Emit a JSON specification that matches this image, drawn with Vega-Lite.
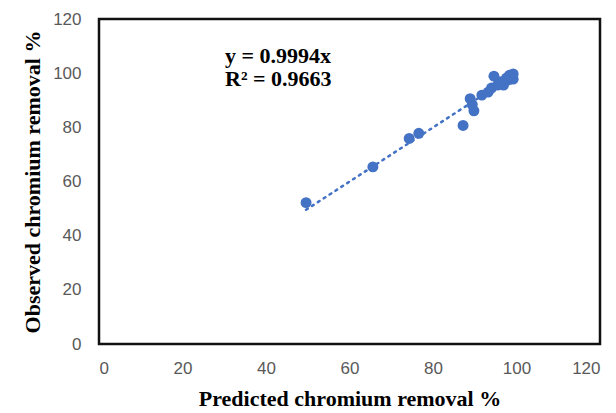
{
  "$schema": "https://vega.github.io/schema/vega-lite/v6.json",
  "autosize": {"type": "none"},
  "width": 501,
  "height": 325,
  "padding": {"left": 99, "top": 19, "right": 16, "bottom": 69},
  "background": "white",
  "config": {
    "view": {"stroke": null},
    "axis": {
      "grid": false,
      "domain": false,
      "ticks": false,
      "labelFont": "Liberation Sans",
      "labelFontSize": 17,
      "labelColor": "#595959",
      "titleFont": "Liberation Serif",
      "titleFontSize": 22,
      "titleFontWeight": "bold",
      "titleColor": "#000000"
    }
  },
  "datasets": {
    "frame": [{"x0": 0, "x1": 120, "y0": 0, "y1": 120}],
    "points": [
      {"pred": 49.6, "obs": 52.2},
      {"pred": 65.6, "obs": 65.4},
      {"pred": 74.3, "obs": 75.9},
      {"pred": 76.6, "obs": 77.8},
      {"pred": 87.2, "obs": 80.7},
      {"pred": 88.9, "obs": 90.6},
      {"pred": 89.4, "obs": 88.4},
      {"pred": 89.8, "obs": 86.1},
      {"pred": 91.7, "obs": 91.9},
      {"pred": 93.2, "obs": 93.0},
      {"pred": 94.0, "obs": 94.5},
      {"pred": 94.6, "obs": 98.9},
      {"pred": 95.5, "obs": 95.6},
      {"pred": 96.3, "obs": 96.8},
      {"pred": 96.9, "obs": 95.6},
      {"pred": 97.6, "obs": 98.2},
      {"pred": 98.2, "obs": 97.6},
      {"pred": 98.3, "obs": 99.2},
      {"pred": 99.2, "obs": 99.7},
      {"pred": 99.2, "obs": 97.8}
    ],
    "trend": [
      {"pred": 49.6, "obs": 49.57},
      {"pred": 99.3, "obs": 99.24}
    ],
    "labels": [
      {"pred": 30.2, "obs": 106.3, "text": "y = 0.9994x"},
      {"pred": 30.2, "obs": 97.8, "text": "R² = 0.9663"}
    ]
  },
  "encoding": {
    "x": {
      "field": "pred",
      "type": "quantitative",
      "scale": {"domain": [0, 120], "nice": false},
      "axis": {"values": [0, 20, 40, 60, 80, 100, 120], "title": "Predicted chromium removal %", "labelPadding": 16, "titlePadding": 12}
    },
    "y": {
      "field": "obs",
      "type": "quantitative",
      "scale": {"domain": [0, 120], "nice": false},
      "axis": {"values": [0, 20, 40, 60, 80, 100, 120], "title": "Observed chromium removal %", "labelPadding": 18, "titlePadding": 8}
    }
  },
  "layer": [
    {
      "data": {"name": "frame"},
      "mark": {"type": "rect", "filled": false, "color": "#111111", "strokeWidth": 2.5},
      "encoding": {
        "x": {"field": "x0", "type": "quantitative"},
        "x2": {"field": "x1"},
        "y": {"field": "y0", "type": "quantitative"},
        "y2": {"field": "y1"}
      }
    },
    {
      "data": {"name": "trend"},
      "mark": {"type": "line", "color": "#4472C4", "strokeWidth": 2.5, "strokeDash": [2, 5], "strokeCap": "round"}
    },
    {
      "data": {"name": "points"},
      "mark": {"type": "circle", "color": "#4472C4", "opacity": 1, "size": 120}
    },
    {
      "data": {"name": "labels"},
      "mark": {"type": "text", "align": "left", "baseline": "middle", "font": "Liberation Serif", "fontSize": 22, "fontWeight": "bold", "color": "#000000"},
      "encoding": {"text": {"field": "text"}}
    }
  ]
}
